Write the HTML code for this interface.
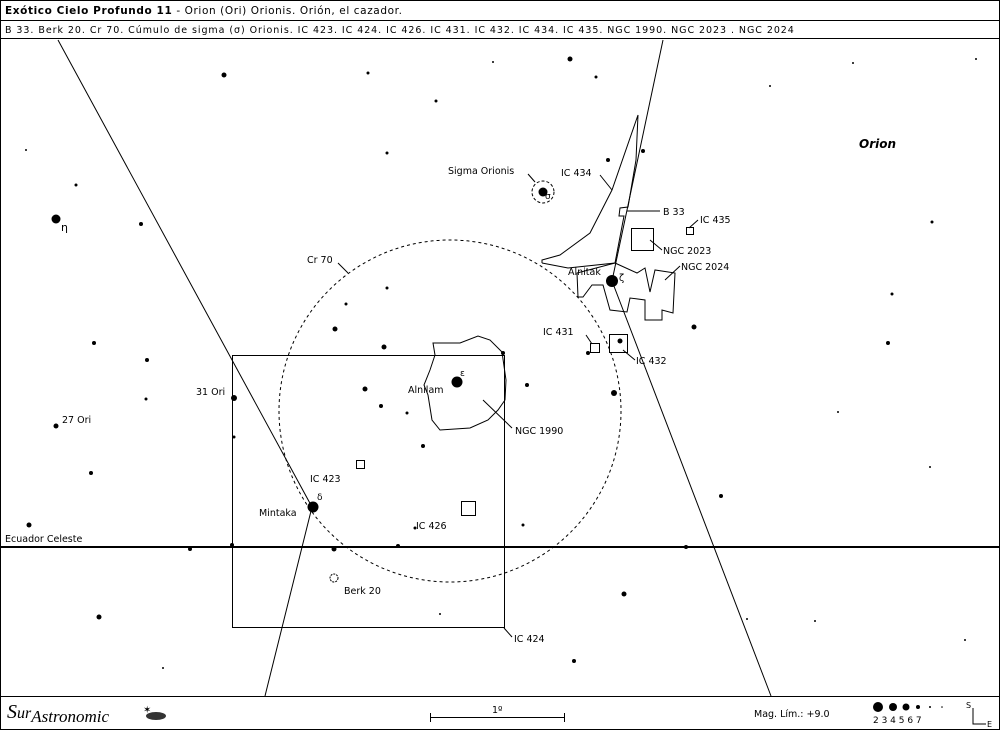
<!DOCTYPE html>
<html><head><meta charset="utf-8"><style>
body{margin:0;background:#fff}
svg{display:block;font-family:"DejaVu Sans",sans-serif;font-size:10px}
</style></head><body>
<svg width="1000" height="730" viewBox="0 0 1000 730" xmlns="http://www.w3.org/2000/svg">
<rect x="0.5" y="0.5" width="999" height="729" fill="#fff" stroke="#000"/>
<line x1="0" y1="20.5" x2="1000" y2="20.5" stroke="#000"/>
<line x1="0" y1="38.5" x2="1000" y2="38.5" stroke="#000"/>
<line x1="0" y1="696.5" x2="1000" y2="696.5" stroke="#000"/>
<text x="5" y="14" font-size="10.5" letter-spacing="0.6"><tspan font-weight="bold">Exótico Cielo Profundo 11</tspan> - Orion (Ori) Orionis. Orión, el cazador.</text>
<text x="5" y="33" font-size="9.5" letter-spacing="0.95">B 33. Berk 20. Cr 70. Cúmulo de sigma (σ) Orionis. IC 423. IC 424. IC 426. IC 431. IC 432. IC 434. IC 435. NGC 1990. NGC 2023 . NGC 2024</text>
<g stroke="#000" fill="none" stroke-width="1">
<polyline points="58,40 312,507 265,696"/>
<polyline points="663,40 612,281 771,696"/>
<line x1="0" y1="547" x2="1000" y2="547" stroke-width="2"/>
<circle cx="450" cy="411" r="171" stroke-dasharray="3,3"/>
<rect x="232.5" y="355.5" width="272" height="272"/>
<polyline points="542,263 542,260 560,255 590,233 612,190 638,115 636,160 628,207 620,208 619,216 624,216 615,263 568,268 542,263"/>
<polygon points="615,263 637,273 645,268 650,292 655,270 675,273 673,313 662,310 662,320 645,320 645,300 630,298 627,312 610,310 603,285 592,285 583,297 578,297 577,273"/>
<polygon points="433,343 460,343 478,336 490,340 502,352 506,380 505,400 498,410 488,420 470,428 440,430 432,420 428,395 424,385 430,370 435,355"/>
<circle cx="543" cy="192" r="11" stroke-dasharray="3,2"/>
<circle cx="334" cy="578" r="4" stroke-dasharray="2,1"/>
<rect x="631.5" y="228.5" width="22" height="22"/>
<rect x="686.5" y="227.5" width="7" height="7"/>
<rect x="609.5" y="334.5" width="18" height="18"/>
<rect x="590.5" y="343.5" width="9" height="9"/>
<rect x="356.5" y="460.5" width="8" height="8"/>
<rect x="461.5" y="501.5" width="14" height="14"/>
<line x1="600" y1="175" x2="612" y2="190"/>
<line x1="528" y1="174" x2="535" y2="182"/>
<line x1="627" y1="211" x2="660" y2="211"/>
<line x1="689" y1="228" x2="698" y2="220"/>
<line x1="650" y1="240" x2="662" y2="250"/>
<line x1="665" y1="280" x2="680" y2="266"/>
<line x1="586" y1="335" x2="592" y2="344"/>
<line x1="623" y1="350" x2="635" y2="360"/>
<line x1="338" y1="263" x2="348" y2="273"/>
<line x1="483" y1="400" x2="512" y2="428"/>
<line x1="504" y1="628" x2="512" y2="637"/>
<line x1="430" y1="717.5" x2="565" y2="717.5"/>
<line x1="430.5" y1="713" x2="430.5" y2="722"/>
<line x1="564.5" y1="713" x2="564.5" y2="722"/>
<polyline points="973,708 973,724 986,724"/>
</g>
<g fill="#000">
<circle cx="543" cy="192" r="4.5"/><circle cx="612" cy="281" r="6"/><circle cx="457" cy="382" r="5.5"/><circle cx="313" cy="507" r="5.5"/><circle cx="56" cy="219" r="4.5"/>
<circle cx="224" cy="75" r="2.5"/><circle cx="570" cy="59" r="2.5"/><circle cx="643" cy="151" r="2"/><circle cx="608" cy="160" r="2"/><circle cx="387" cy="153" r="1.5"/><circle cx="436" cy="101" r="1.5"/><circle cx="368" cy="73" r="1.5"/><circle cx="596" cy="77" r="1.5"/><circle cx="141" cy="224" r="2"/><circle cx="234" cy="398" r="3"/><circle cx="56" cy="426" r="2.5"/><circle cx="29" cy="525" r="2.5"/><circle cx="147" cy="360" r="2"/><circle cx="94" cy="343" r="2"/><circle cx="146" cy="399" r="1.5"/><circle cx="91" cy="473" r="2"/><circle cx="190" cy="549" r="2"/><circle cx="232" cy="545" r="2"/><circle cx="335" cy="329" r="2.5"/><circle cx="384" cy="347" r="2.5"/><circle cx="365" cy="389" r="2.5"/><circle cx="503" cy="353" r="2"/><circle cx="527" cy="385" r="2"/><circle cx="614" cy="393" r="3"/><circle cx="620" cy="341" r="2.5"/><circle cx="588" cy="353" r="2"/><circle cx="694" cy="327" r="2.5"/><circle cx="888" cy="343" r="2"/><circle cx="721" cy="496" r="2"/><circle cx="624" cy="594" r="2.5"/><circle cx="99" cy="617" r="2.5"/><circle cx="334" cy="549" r="2.5"/><circle cx="398" cy="546" r="2"/><circle cx="415" cy="528" r="1.5"/><circle cx="423" cy="446" r="2"/><circle cx="381" cy="406" r="2"/><circle cx="407" cy="413" r="1.5"/><circle cx="387" cy="288" r="1.5"/><circle cx="346" cy="304" r="1.5"/><circle cx="574" cy="661" r="2"/><circle cx="523" cy="525" r="1.5"/><circle cx="686" cy="547" r="2"/><circle cx="932" cy="222" r="1.5"/><circle cx="892" cy="294" r="1.5"/><circle cx="234" cy="437" r="1.5"/><circle cx="76" cy="185" r="1.5"/>
<circle cx="976" cy="59" r="1"/><circle cx="930" cy="467" r="1"/><circle cx="965" cy="640" r="1"/><circle cx="815" cy="621" r="1"/><circle cx="440" cy="614" r="1"/><circle cx="163" cy="668" r="1"/><circle cx="747" cy="619" r="1"/><circle cx="838" cy="412" r="1"/><circle cx="26" cy="150" r="1"/><circle cx="770" cy="86" r="1"/><circle cx="853" cy="63" r="1"/><circle cx="493" cy="62" r="1"/>
<circle cx="878" cy="707" r="5"/><circle cx="893" cy="707" r="4"/><circle cx="906" cy="707" r="3.5"/><circle cx="918" cy="707" r="2"/><circle cx="930" cy="707" r="1"/><circle cx="942" cy="707" r="0.8"/>
</g>
<g font-size="9.5">
<text x="859" y="148" font-weight="bold" font-style="italic" font-size="12">Orion</text>
<text x="448" y="174">Sigma Orionis</text>
<text x="561" y="176">IC 434</text>
<text x="545" y="199" font-size="9">σ</text>
<text x="663" y="215">B 33</text>
<text x="700" y="223">IC 435</text>
<text x="663" y="254">NGC 2023</text>
<text x="681" y="270">NGC 2024</text>
<text x="568" y="275">Alnitak</text>
<text x="619" y="281">ζ</text>
<text x="543" y="335">IC 431</text>
<text x="636" y="364">IC 432</text>
<text x="307" y="263">Cr 70</text>
<text x="408" y="393">Alnilam</text>
<text x="460" y="376" font-size="9">ε</text>
<text x="515" y="434">NGC 1990</text>
<text x="196" y="395">31 Ori</text>
<text x="62" y="423">27 Ori</text>
<text x="61" y="231" font-size="11">η</text>
<text x="310" y="482">IC 423</text>
<text x="416" y="529">IC 426</text>
<text x="259" y="516">Mintaka</text>
<text x="317" y="500" font-size="9">δ</text>
<text x="5" y="542">Ecuador Celeste</text>
<text x="344" y="594">Berk 20</text>
<text x="514" y="642">IC 424</text>
<text x="492" y="713">1º</text>
<text x="754" y="717">Mag. Lím.: +9.0</text>
<text x="873" y="723" font-size="9">2 3 4 5 6 7</text>
<text x="966" y="708" font-size="8">S</text>
<text x="987" y="727" font-size="8">E</text>
<text x="7" y="718" font-family="Liberation Serif,serif" font-style="italic" font-size="20">S<tspan font-size="16">ur</tspan><tspan font-size="17" dy="4">Astronomic</tspan></text>
</g>
<ellipse cx="156" cy="716" rx="10" ry="4" fill="#333"/>
<text x="143" y="713" font-size="10">✶</text>
</svg>
</body></html>
